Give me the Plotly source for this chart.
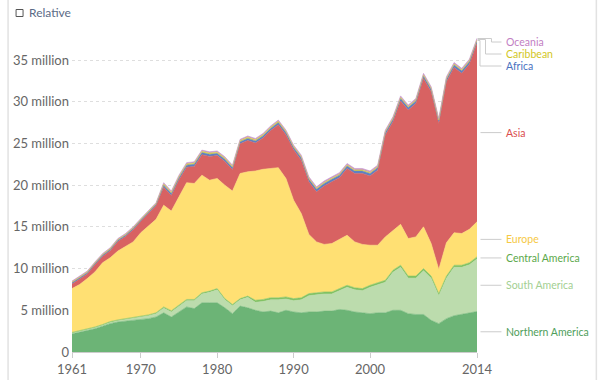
import plotly.graph_objects as go

years = list(range(1961, 2015))

northern_america = [2.2, 2.4, 2.6, 2.8, 3.1, 3.4, 3.6, 3.7, 3.8, 3.9, 4.0, 4.2, 4.7, 4.2, 4.8, 5.4, 5.2, 5.9, 5.9, 5.9,
                    5.3, 4.6, 5.5, 5.3, 5.0, 4.8, 4.9, 4.7, 5.0, 4.8, 4.7, 4.8, 4.8, 4.9, 4.9, 5.1, 5.0, 4.8, 4.7, 4.6,
                    4.7, 4.7, 5.0, 5.0, 4.6, 4.5, 4.5, 3.8, 3.4, 4.0, 4.35, 4.5, 4.7, 4.85]
south_america = [0.05, 0.05, 0.1, 0.1, 0.1, 0.15, 0.15, 0.2, 0.25, 0.3, 0.35, 0.4, 0.55, 0.6, 0.65, 0.75, 0.95, 1.05, 1.25, 1.55,
                 0.95, 0.95, 0.75, 1.25, 0.95, 1.25, 1.35, 1.55, 1.35, 1.35, 1.55, 1.95, 2.05, 2.05, 2.05, 2.25, 2.75, 2.65, 2.65, 3.15,
                 3.35, 3.65, 4.55, 5.15, 4.25, 4.35, 5.25, 5.05, 3.35, 4.85, 5.8, 5.65, 5.75, 6.3]
central_america = [0.1, 0.1, 0.1, 0.1, 0.1, 0.1, 0.1, 0.1, 0.1, 0.1, 0.1, 0.1, 0.15, 0.15, 0.15, 0.15, 0.15, 0.15, 0.15, 0.15,
                   0.15, 0.15, 0.15, 0.15, 0.25, 0.25, 0.25, 0.25, 0.25, 0.25, 0.25, 0.25, 0.25, 0.25, 0.25, 0.25, 0.25, 0.25, 0.25, 0.25,
                   0.25, 0.25, 0.25, 0.25, 0.25, 0.25, 0.25, 0.25, 0.25, 0.25, 0.25, 0.25, 0.25, 0.25]
europe = [5.25, 5.55, 6.0, 6.6, 7.4, 7.65, 8.25, 8.6, 9.05, 10.0, 10.65, 11.2, 12.2, 11.95, 13.0, 14.0, 13.9, 14.1, 13.3, 13.2,
          13.6, 13.6, 15.0, 14.9, 15.5, 15.6, 15.5, 15.6, 14.2, 11.8, 10.1, 7.1, 6.1, 5.7, 5.8, 5.9, 6.0, 5.5, 5.3, 4.8,
          4.5, 5.2, 4.8, 4.9, 4.5, 4.7, 5.0, 3.9, 2.9, 4.0, 3.9, 3.8, 4.0, 4.2]
asia = [0.55, 0.65, 0.55, 0.85, 0.75, 0.85, 1.15, 1.25, 1.45, 1.35, 1.45, 1.65, 2.15, 1.85, 2.05, 1.85, 2.05, 2.45, 2.85, 2.75,
        2.85, 2.55, 3.55, 3.75, 3.35, 3.75, 4.55, 5.15, 5.25, 6.05, 6.4, 6.3, 6.0, 7.0, 7.4, 7.4, 8.0, 8.2, 8.5, 8.3,
        9.0, 12.2, 13.0, 14.8, 15.4, 16.0, 17.8, 18.2, 17.5, 19.3, 19.8, 19.2, 19.8, 21.4]
africa = [0.15, 0.15, 0.15, 0.15, 0.15, 0.15, 0.15, 0.15, 0.15, 0.15, 0.15, 0.15, 0.25, 0.25, 0.25, 0.25, 0.25, 0.25, 0.25, 0.25,
          0.25, 0.25, 0.25, 0.25, 0.25, 0.25, 0.25, 0.25, 0.25, 0.25, 0.3, 0.3, 0.3, 0.3, 0.3, 0.3, 0.3, 0.3, 0.3, 0.3,
          0.3, 0.3, 0.3, 0.3, 0.3, 0.3, 0.3, 0.3, 0.3, 0.3, 0.3, 0.3, 0.3, 0.3]
caribbean = [0.1] * 12 + [0.15] * 18 + [0.12] * 24
oceania = [0.1] * 12 + [0.15] * 18 + [0.18] * 24

series = [
    ("Northern America", northern_america, "rgb(108,180,118)", "#4f9e5b"),
    ("South America", south_america, "rgb(188,220,173)", "#a3cf92"),
    ("Central America", central_america, "rgb(130,194,100)", "#5ba84a"),
    ("Europe", europe, "rgb(255,224,115)", "#f6c944"),
    ("Asia", asia, "rgb(216,98,98)", "#da4d4d"),
    ("Africa", africa, "rgb(92,130,196)", "#4a72bf"),
    ("Caribbean", caribbean, "rgb(222,212,62)", "#d2c61e"),
    ("Oceania", oceania, "rgb(200,150,205)", "#c27ec3"),
]

y_ticks = [0, 5, 10, 15, 20, 25, 30, 35]
y_tick_text = ["0", "5 million", "10 million", "15 million", "20 million", "25 million", "30 million", "35 million"]
x_ticks = [1961, 1970, 1980, 1990, 2000, 2014]

W, H = 600, 380
ML, MR, MT, MB = 72, 122.5, 35, 28
PW, PH = W - ML - MR, H - MT - MB
YMAX = 38


def px_x(px):
    return (px - ML) / PW


def px_y(py):
    return (H - MB - py) / PH


def val_py(v):
    return H - MB - v / YMAX * PH


fig = go.Figure()
for name, vals, col, _ in series:
    fig.add_trace(go.Scatter(
        x=years, y=vals, name=name, mode="lines", stackgroup="one",
        line=dict(color=col, width=0.6), fillcolor=col, showlegend=False,
        hovertemplate="%{x}: %{y}M<extra>" + name + "</extra>"))

shapes = []
annotations = []
grey = "#cccccc"
LABEL_SIZE = 10.5

cum = 0
mids = {}
for name, vals, col, tcol in series:
    mids[name] = cum + vals[-1] / 2
    cum += vals[-1]

for name, vals, col, tcol in series[:5]:
    py = val_py(mids[name])
    shapes.append(dict(type="line", xref="paper", yref="paper", x0=px_x(481), x1=px_x(502),
                       y0=px_y(py), y1=px_y(py), line=dict(color=grey, width=1)))
    annotations.append(dict(text=name, xref="paper", yref="paper", x=px_x(505), y=px_y(py),
                            xanchor="left", yanchor="middle", showarrow=False,
                            font=dict(family="Lato", size=LABEL_SIZE, color=tcol)))

small = [("Oceania", 42, 492, 38.5), ("Caribbean", 54, 486, 39.5), ("Africa", 66, 480.5, 40.5)]
tcols = {n: t for n, _, _, t in series}
for name, ly, ex, sy in small:
    path = "M {},{} L {},{} L {},{} L {},{}".format(
        px_x(478), px_y(sy), px_x(ex), px_y(sy), px_x(ex), px_y(ly), px_x(502), px_y(ly))
    shapes.append(dict(type="path", xref="paper", yref="paper", path=path,
                       line=dict(color=grey, width=1)))
    annotations.append(dict(text=name, xref="paper", yref="paper", x=px_x(505), y=px_y(ly),
                            xanchor="left", yanchor="middle", showarrow=False,
                            font=dict(family="Lato", size=LABEL_SIZE, color=tcols[name])))

shapes.append(dict(type="rect", xref="paper", yref="paper", x0=px_x(16), x1=px_x(23),
                   y0=px_y(16.5), y1=px_y(9.5), line=dict(color="#555", width=1), fillcolor="white"))
annotations.append(dict(text="Relative", xref="paper", yref="paper", x=px_x(27), y=px_y(13),
                        xanchor="left", yanchor="middle", showarrow=False,
                        font=dict(family="Lato", size=12, color="#5b6b86")))

for bx in (8, 597):
    shapes.append(dict(type="line", xref="paper", yref="paper", x0=px_x(bx), x1=px_x(bx),
                       y0=px_y(0), y1=px_y(H), line=dict(color="#e2e2e2", width=1.5)))

fig.update_layout(
    width=W, height=H,
    margin=dict(l=ML, r=MR, t=MT, b=MB),
    paper_bgcolor="white", plot_bgcolor="white",
    font=dict(family="Lato", color="#666"),
    showlegend=False,
    shapes=shapes, annotations=annotations,
    xaxis=dict(range=[1961, 2014], tickvals=x_ticks, ticktext=[str(t) for t in x_ticks],
               showgrid=False, zeroline=False, showline=True, linecolor="#cccccc",
               ticks="outside", ticklen=5, tickcolor="#cccccc", automargin=False,
               tickfont=dict(family="Lato", size=13, color="#666")),
    yaxis=dict(range=[0, YMAX], tickvals=y_ticks, ticktext=y_tick_text,
               showgrid=True, gridcolor="#dedede", griddash="3px,3px", gridwidth=1, zeroline=False,
               ticks="", ticklabelstandoff=2, automargin=False,
               tickfont=dict(family="Lato", size=13, color="#666")),
)

fig.write_html("out.html", config={"displayModeBar": False},
               post_script="document.body.style.margin='0';")
